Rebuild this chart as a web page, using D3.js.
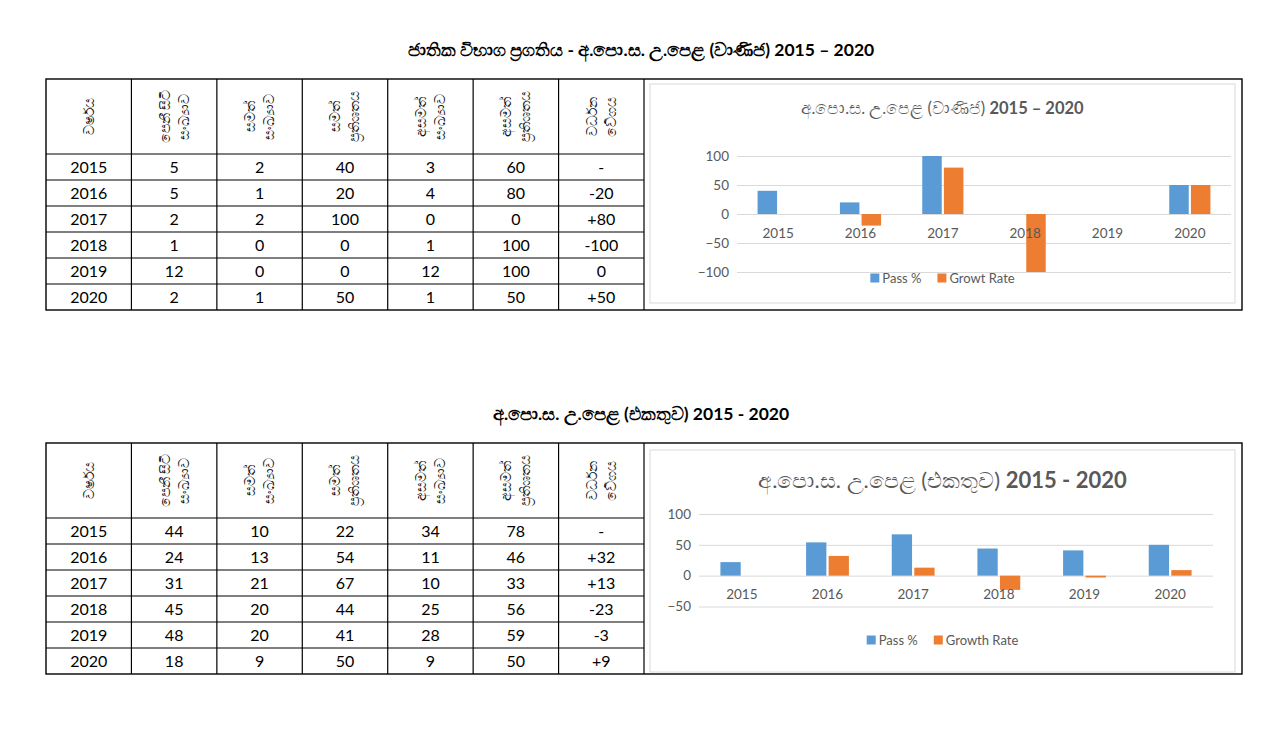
<!DOCTYPE html>
<html>
<head>
<meta charset="utf-8">
<script src="https://cdn.jsdelivr.net/npm/d3@7"></script>
<style>
  body { margin: 0; background: #fff; }
  svg { display: block; }
</style>
</head>
<body>
<div id="page"></div>
<script>
// ---- data ----
const years = ["2015", "2016", "2017", "2018", "2019", "2020"];
const headerLines = [
  ["වර්ෂය"],
  ["පෙනී සිටි", "සංඛ්‍යාව"],
  ["සමත්", "සංඛ්‍යාව"],
  ["සමත්", "ප්‍රතිශතය"],
  ["අසමත්", "සංඛ්‍යාව"],
  ["අසමත්", "ප්‍රතිශතය"],
  ["වර්ධන", "වේගය"],
];

// commerce stream
const comSat = [5, 5, 2, 1, 12, 2];
const comPass = [2, 1, 2, 0, 0, 1];
const comPassPct = [40, 20, 100, 0, 0, 50];
const comFail = [3, 4, 0, 1, 12, 1];
const comFailPct = [60, 80, 0, 100, 100, 50];
const comGrowth = ["-", "-20", "+80", "-100", "0", "+50"];
const comTicks = [-100, -50, 0, 50, 100];

// total
const totSat = [44, 24, 31, 45, 48, 18];
const totPass = [10, 13, 21, 20, 20, 9];
const totPassPct = [22, 54, 67, 44, 41, 50];
const totFail = [34, 11, 10, 25, 28, 9];
const totFailPct = [78, 46, 33, 56, 59, 50];
const totGrowth = ["-", "+32", "+13", "-23", "-3", "+9"];
const totTicks = [-50, 0, 50, 100];

const seriesNames = ["pass", "growth"];
const blue = "#5B9BD5";
const orange = "#ED7D31";
const grey = "#595959";

// ---- page ----
const svg = d3.select("#page").append("svg")
  .attr("width", 1280)
  .attr("height", 750)
  .style("font-family", "Lato, 'Noto Sans', sans-serif");

svg.append("rect").attr("width", 1280).attr("height", 750).attr("fill", "#fff");

function drawSection(cfg) {
  // page title
  svg.append("text")
    .attr("x", 641).attr("y", cfg.titleY)
    .attr("text-anchor", "middle")
    .style("font-size", "17.5px").style("font-weight", "bold")
    .attr("fill", "#000")
    .text(cfg.pageTitle);

  // table
  const left = 46, right = 1242, tableRight = 644;
  const colW = (tableRight - left) / 7;
  const headH = 75, rowH = 26;
  const top = cfg.tableTop;
  const bottom = top + headH + rowH * years.length;
  const t = svg.append("g");

  t.append("rect")
    .attr("x", left).attr("y", top)
    .attr("width", right - left).attr("height", bottom - top)
    .attr("fill", "none").attr("stroke", "#000").attr("stroke-width", 1.4);

  d3.range(1, 8).forEach((i) => {
    t.append("line")
      .attr("x1", left + i * colW).attr("x2", left + i * colW)
      .attr("y1", top).attr("y2", bottom)
      .attr("stroke", "#000").attr("stroke-width", 1.2);
  });
  d3.range(0, years.length).forEach((r) => {
    const y = top + headH + r * rowH;
    t.append("line")
      .attr("x1", left).attr("x2", tableRight)
      .attr("y1", y).attr("y2", y)
      .attr("stroke", "#000").attr("stroke-width", 1.2);
  });

  // rotated headers
  headerLines.forEach((lines, i) => {
    const g = t.append("g")
      .attr("transform", `translate(${left + (i + 0.5) * colW},${top + headH / 2}) rotate(-90)`);
    lines.forEach((line, k) => {
      const off = (k - (lines.length - 1) / 2) * 19;
      g.append("text")
        .attr("x", 0).attr("y", off)
        .attr("dy", "0.35em")
        .attr("text-anchor", "middle")
        .style("font-size", "14px")
        .attr("fill", "#111")
        .text(line);
    });
  });

  // body rows
  const cols = [years, cfg.sat, cfg.pass, cfg.passPct, cfg.fail, cfg.failPct, cfg.growth];
  years.forEach((yr, r) => {
    cols.forEach((col, c) => {
      t.append("text")
        .attr("x", left + (c + 0.5) * colW)
        .attr("y", top + headH + r * rowH + rowH / 2)
        .attr("dy", "0.36em")
        .attr("text-anchor", "middle")
        .style("font-size", "16px")
        .attr("fill", "#000")
        .text(col[r]);
    });
  });

  // chart box
  const b = cfg.box;
  const chart = svg.append("g");
  chart.append("rect")
    .attr("x", b.x).attr("y", b.y).attr("width", b.w).attr("height", b.h)
    .attr("fill", "#fff").attr("stroke", "#D9D9D9").attr("stroke-width", 1);

  const title = chart.append("text")
    .attr("x", b.x + b.w / 2).attr("y", cfg.chartTitleY)
    .attr("text-anchor", "middle")
    .style("font-size", cfg.chartTitleSize + "px")
    .attr("fill", grey);
  title.append("tspan").text(cfg.chartTitle + " ");
  title.append("tspan").style("font-weight", "bold").text(cfg.chartYears);

  const p = cfg.plot;
  const y = d3.scaleLinear().domain(cfg.domain).range([p.bottom, p.top]);
  const x0 = d3.scaleBand().domain(years).range([p.left, p.right]).paddingInner(0.5).paddingOuter(0.25);
  const x1 = d3.scaleBand().domain(seriesNames).range([0, x0.bandwidth()]).paddingInner(0.1);

  // grid + y labels
  const yAxis = chart.append("g")
    .attr("transform", `translate(${p.left},0)`)
    .call(d3.axisLeft(y).tickValues(cfg.ticks).tickSize(-(p.right - p.left)).tickPadding(8));
  yAxis.select(".domain").remove();
  yAxis.selectAll("line").attr("stroke", "#D9D9D9");
  yAxis.selectAll("text").attr("fill", grey).style("font-size", "13.5px").style("font-family", "Lato, sans-serif");

  const growthNum = cfg.growth.map((s) => (s === "-" ? null : +s));
  const rows = years.map((yr, i) => ({ year: yr, pass: cfg.passPct[i], growth: growthNum[i] }));

  const groups = chart.selectAll(".grp").data(rows).enter().append("g")
    .attr("transform", (d) => `translate(${x0(d.year)},0)`);
  groups.selectAll("rect")
    .data((d) => seriesNames.map((k) => ({ key: k, value: d[k] })).filter((e) => e.value !== null))
    .enter().append("rect")
    .attr("x", (d) => x1(d.key))
    .attr("width", x1.bandwidth())
    .attr("y", (d) => y(Math.max(0, d.value)))
    .attr("height", (d) => Math.abs(y(d.value) - y(0)))
    .attr("fill", (d) => (d.key === "pass" ? blue : orange));

  // category labels next to zero line
  const xAxis = chart.append("g")
    .attr("transform", `translate(0,${y(0)})`)
    .call(d3.axisBottom(x0).tickSize(0).tickPadding(14));
  xAxis.select(".domain").remove();
  xAxis.selectAll("text").attr("fill", grey).style("font-size", "13.5px").style("font-family", "Lato, sans-serif");

  // legend
  const legend = chart.append("g");
  const items = [{ color: blue, text: "Pass %" }, { color: orange, text: cfg.growthLabel }];
  let pos = 0;
  items.forEach((it) => {
    const g = legend.append("g").attr("transform", `translate(${pos},0)`);
    g.append("rect").attr("x", 0).attr("y", -4.5).attr("width", 9).attr("height", 9).attr("fill", it.color);
    const tx = g.append("text").attr("x", 12).attr("dy", "0.35em")
      .style("font-size", "13px").attr("fill", grey).text(it.text);
    pos += 12 + tx.node().getComputedTextLength() + 16;
  });
  const legW = pos - 16;
  legend.attr("transform", `translate(${b.x + b.w / 2 - legW / 2},${cfg.legendY})`);
}

drawSection({
  pageTitle: "ජාතික විභාග ප්‍රගතිය - අ.පො.ස. උ.පෙළ (වාණිජ) 2015 – 2020",
  titleY: 56,
  tableTop: 79,
  sat: comSat, pass: comPass, passPct: comPassPct, fail: comFail, failPct: comFailPct, growth: comGrowth,
  box: { x: 650, y: 84, w: 585, h: 219 },
  chartTitle: "අ.පො.ස. උ.පෙළ (වාණිජ)",
  chartYears: "2015 – 2020",
  chartTitleY: 114,
  chartTitleSize: 16.5,
  plot: { left: 737, right: 1231, top: 156, bottom: 272 },
  domain: [-100, 100],
  ticks: comTicks,
  growthLabel: "Growt Rate",
  legendY: 278,
});

drawSection({
  pageTitle: "අ.පො.ස. උ.පෙළ (එකතුව) 2015 - 2020",
  titleY: 420,
  tableTop: 443,
  sat: totSat, pass: totPass, passPct: totPassPct, fail: totFail, failPct: totFailPct, growth: totGrowth,
  box: { x: 650, y: 450, w: 585, h: 222 },
  chartTitle: "අ.පො.ස. උ.පෙළ (එකතුව)",
  chartYears: "2015 - 2020",
  chartTitleY: 488,
  chartTitleSize: 22,
  plot: { left: 699, right: 1213, top: 514, bottom: 606.5 },
  domain: [-50, 100],
  ticks: totTicks,
  growthLabel: "Growth Rate",
  legendY: 640,
});
</script>
</body>
</html>
